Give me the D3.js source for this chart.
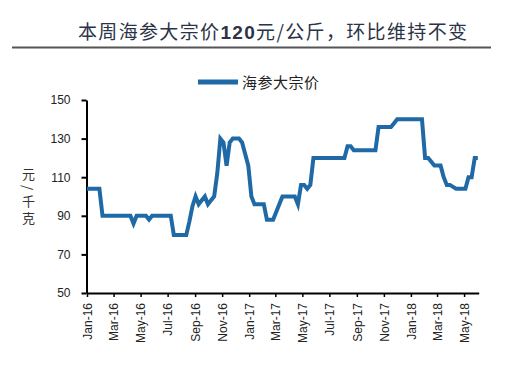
<!DOCTYPE html>
<html><head><meta charset="utf-8">
<script src="https://cdn.jsdelivr.net/npm/d3@7"></script>
<style>
html,body{margin:0;padding:0;background:#fff;}
svg{display:block;}
</style></head>
<body>
<svg id="chart" width="520" height="372"></svg>
<script>
// ---- data ----
const titleParts = ["本周海参大宗价", "120", "元/公斤，环比维持不变"];
const seriesName = "海参大宗价";
const yAxisLabel = "元/千克";
const startDate = "2016-01-01"; // weekly observations
const prices = [
  104,104,104,104,104,
  90,90,90,90,90,90,90,90,90,90,
  86,
  90,90,90,90,
  88,
  90,90,90,90,90,90,90,
  80,80,80,80,80,
  87,95,100,96,98,100,96,98,100,112,130,128,116,128,130,130,130,128,122,116,100,96,96,96,96,88,88,88,92,96,100,
  100,100,100,100,
  96,106,106,104,106,
  120,120,120,120,120,120,120,120,120,120,120,
  126,126,124,
  124,124,124,124,124,124,124,
  136,136,136,136,136,
  138,
  140,140,140,140,140,140,140,140,140,
  120,120,118,116,116,116,110,106,106,105,104,104,104,104,110,110,120,120
];
const yTicks = [50, 70, 90, 110, 130, 150];
const xDomain = ["2016-01-01", "2018-06-03"];

// ---- chart ----
const svg = d3.select("#chart");
const parse = d3.utcParse("%Y-%m-%d");
const start = parse(startDate);
const data = prices.map((v, i) => ({ date: d3.utcDay.offset(start, 7 * i), value: v }));

const x = d3.scaleUtc().domain(xDomain.map(parse)).range([87, 478.7]);
const y = d3.scaleLinear().domain([50, 150]).range([293, 100]);

const cjk = "'Noto Sans CJK SC', sans-serif";
const latin = "'Liberation Sans', Arial, sans-serif";

// title
const title = svg.append("text")
  .attr("x", 78).attr("y", 39)
  .attr("font-family", cjk).attr("font-size", 19)
  .attr("fill", "#2b3446")
  .attr("textLength", 389).attr("lengthAdjust", "spacing");
title.append("tspan").text(titleParts[0]);
title.append("tspan").attr("font-family", latin).attr("font-weight", "bold").text(titleParts[1]);
title.append("tspan").text(titleParts[2]);

svg.append("line").attr("x1", 12).attr("x2", 491).attr("y1", 47.5).attr("y2", 47.5)
  .attr("stroke", "#555").attr("stroke-width", 2);

// legend
svg.append("line").attr("x1", 198).attr("x2", 238).attr("y1", 82).attr("y2", 82)
  .attr("stroke", "#1f6aa6").attr("stroke-width", 5);
svg.append("text").attr("x", 242).attr("y", 87.5)
  .attr("font-family", cjk).attr("font-size", 15).attr("fill", "#222")
  .attr("textLength", 77).attr("lengthAdjust", "spacing")
  .text(seriesName);

// y axis
const yAxis = svg.append("g").attr("transform", "translate(86.5,0)")
  .call(d3.axisLeft(y).tickValues(yTicks).tickSize(5).tickPadding(11).tickSizeOuter(0));
yAxis.select(".domain").attr("stroke", "#000").attr("stroke-width", 2);
yAxis.selectAll(".tick line").attr("stroke", "#000").attr("stroke-width", 2);
yAxis.selectAll(".tick text").attr("font-family", latin).attr("font-size", 12).attr("fill", "#222");

// x axis
const xAxis = svg.append("g").attr("transform", "translate(0,293)")
  .call(d3.axisBottom(x).ticks(d3.utcMonth.every(2)).tickFormat(d3.utcFormat("%b-%y"))
    .tickSize(4).tickSizeOuter(0));
xAxis.select(".domain").attr("stroke", "#000").attr("stroke-width", 2);
xAxis.selectAll(".tick line").attr("stroke", "#000").attr("stroke-width", 1.5);
xAxis.selectAll(".tick text")
  .attr("font-family", latin).attr("font-size", 12).attr("fill", "#222")
  .attr("text-anchor", "end")
  .attr("transform", "rotate(-90)")
  .attr("x", -10).attr("y", 0).attr("dy", "0.35em");

// y label (vertical writing)
svg.append("text")
  .attr("x", 28.5).attr("y", 168)
  .attr("writing-mode", "tb")
  .style("writing-mode", "vertical-rl")
  .attr("letter-spacing", 4)
  .attr("font-family", cjk).attr("font-size", 13).attr("fill", "#333")
  .text(yAxisLabel);

// line
svg.append("path").datum(data)
  .attr("fill", "none").attr("stroke", "#1f6aa6").attr("stroke-width", 4)
  .attr("d", d3.line().x(d => x(d.date)).y(d => y(d.value)));
</script>
</body></html>
